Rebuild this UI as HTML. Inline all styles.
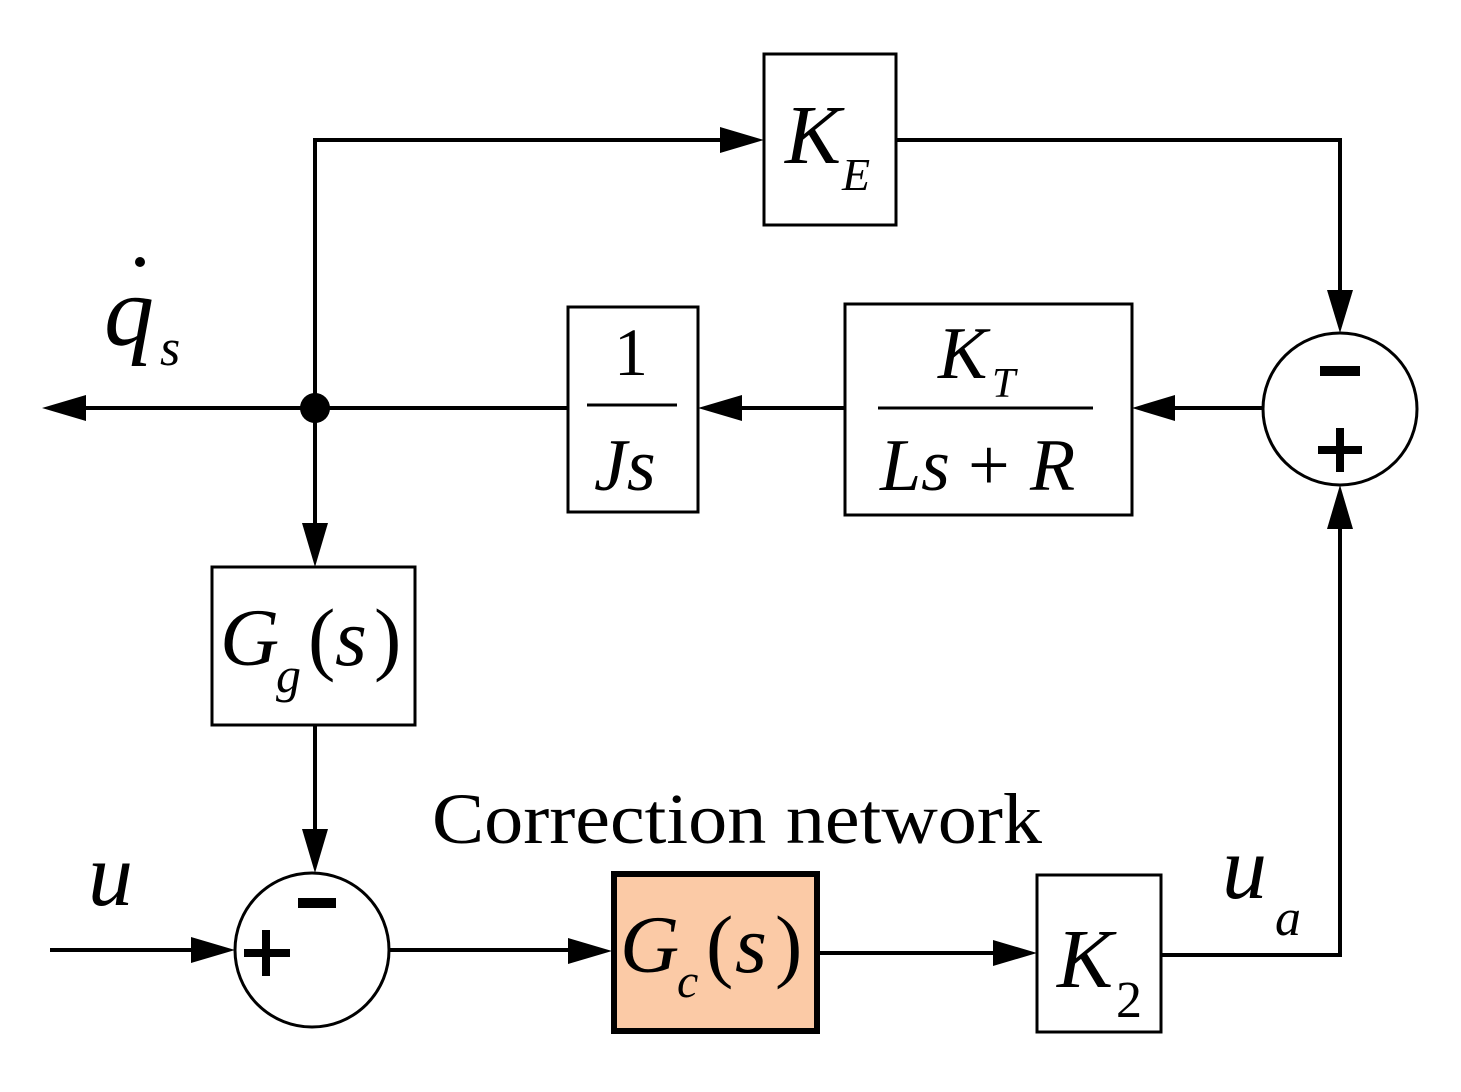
<!DOCTYPE html>
<html><head><style>
html,body{margin:0;padding:0;background:#fff;}
svg{display:block;}
text{font-family:"Liberation Serif",serif;fill:#000;}
.i{font-style:italic;}
</style></head><body>
<svg width="1461" height="1092" viewBox="0 0 1461 1092" xmlns="http://www.w3.org/2000/svg">
<g stroke="#000" stroke-width="4" fill="none">
<polyline points="315,408 315,140 724,140"/>
<polyline points="896,140 1340,140 1340,296"/>
<line x1="1263" y1="408" x2="1172" y2="408"/>
<line x1="845" y1="408" x2="738" y2="408"/>
<line x1="568" y1="408" x2="85" y2="408"/>
<line x1="315" y1="408" x2="315" y2="527"/>
<line x1="315" y1="725" x2="315" y2="833"/>
<line x1="50" y1="950" x2="195" y2="950"/>
<line x1="390" y1="950" x2="572" y2="950"/>
<line x1="818" y1="953" x2="997" y2="953"/>
<polyline points="1161,955 1340,955 1340,525"/>
<rect x="764" y="54" width="132" height="171" stroke-width="3"/>
<rect x="568" y="307" width="130" height="205" stroke-width="3"/>
<rect x="845" y="304" width="287" height="211" stroke-width="3"/>
<rect x="212" y="567" width="203" height="158" stroke-width="3"/>
<rect x="1037" y="875" width="124" height="157" stroke-width="3"/>
<ellipse cx="1340" cy="409" rx="77" ry="76" stroke-width="3"/>
<ellipse cx="312" cy="950" rx="77" ry="77" stroke-width="3" fill="#fff"/>
<line x1="587" y1="405" x2="677" y2="405" stroke-width="3"/>
<line x1="878" y1="408" x2="1093" y2="408" stroke-width="3"/>
</g>
<rect x="614" y="874" width="203" height="157" fill="#fbcaa6" stroke="#000" stroke-width="6"/>
<g fill="#000">
<polygon points="764,140 720,127 720,153"/>
<polygon points="1340,333 1327,290 1353,290"/>
<polygon points="1132,408 1175,395 1175,421"/>
<polygon points="698,408 742,395 742,421"/>
<polygon points="42,408 86,395 86,421"/>
<polygon points="315,567 302,523 328,523"/>
<polygon points="315,873 302,829 328,829"/>
<polygon points="235,950 191,937 191,963"/>
<polygon points="612,951 568,938 568,964"/>
<polygon points="1037,953 993,940 993,966"/>
<polygon points="1340,485 1327,529 1353,529"/>
<circle cx="315" cy="408" r="15"/>
<rect x="1320" y="366" width="40" height="10"/>
<rect x="1336" y="428" width="8" height="44"/>
<rect x="1318" y="446" width="44" height="8"/>
<rect x="298" y="898" width="38" height="10"/>
<rect x="262" y="930" width="8" height="46"/>
<rect x="244" y="949" width="46" height="8"/>
</g>
<text x="785" y="163" class="i" font-size="84">K</text>
<text x="842" y="190" class="i" font-size="46">E</text>
<text x="614" y="375" font-size="68">1</text>
<text x="594" y="490" class="i" font-size="74">Js</text>
<text x="938" y="378" class="i" font-size="74">K</text>
<text x="992" y="397" class="i" font-size="42">T</text>
<text x="880" y="490" class="i" font-size="74">Ls</text>
<text x="968" y="490" font-size="74">+</text>
<text x="1030" y="490" class="i" font-size="74">R</text>
<text x="220" y="665" class="i" font-size="82">G</text>
<text x="276" y="692" class="i" font-size="50">g</text>
<text x="308" y="665" font-size="82">(</text>
<text x="335" y="665" class="i" font-size="82">s</text>
<text x="374" y="665" font-size="82">)</text>
<text x="620" y="972" class="i" font-size="82">G</text>
<text x="677" y="997" class="i" font-size="48">c</text>
<text x="706" y="972" font-size="82">(</text>
<text x="735" y="972" class="i" font-size="82">s</text>
<text x="775" y="972" font-size="82">)</text>
<text x="1057" y="987" class="i" font-size="84">K</text>
<text x="1116" y="1017" font-size="52">2</text>
<text x="104" y="345" class="i" font-size="100">q</text>
<circle cx="140" cy="262" r="5" fill="#000"/>
<text x="160" y="365" class="i" font-size="52">s</text>
<text x="88" y="905" class="i" font-size="90">u</text>
<text x="1222" y="898" class="i" font-size="90">u</text>
<text x="1275" y="935" class="i" font-size="52">a</text>
<text x="432" y="843" font-size="72" textLength="610" lengthAdjust="spacingAndGlyphs">Correction network</text>
</svg>
</body></html>
